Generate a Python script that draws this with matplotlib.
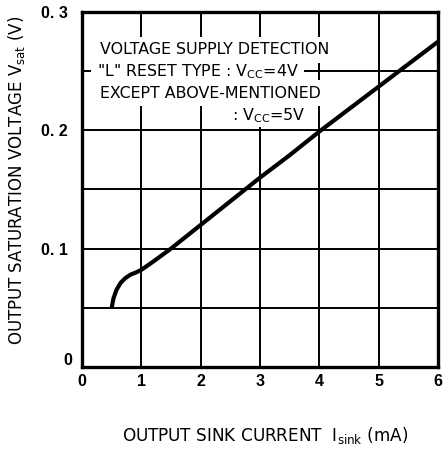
import numpy as np
import matplotlib
matplotlib.use("Agg")
import matplotlib.pyplot as plt

# curve
isink_ma = [0.5, 0.53, 0.58, 0.65, 0.73, 0.82, 0.92, 1.0, 1.2, 1.5, 2.0, 2.5, 3.0, 3.5, 4.0, 4.5, 5.0, 5.5, 6.0]
vsat_v = [0.050, 0.058, 0.065, 0.071, 0.075, 0.078, 0.080, 0.082, 0.089, 0.100, 0.120, 0.140, 0.160, 0.179, 0.199, 0.218, 0.237, 0.256, 0.275]

x_ticks = [0, 1, 2, 3, 4, 5, 6]
y_grid = [0.05, 0.1, 0.15, 0.2, 0.25]
y_ticks = [0.1, 0.2, 0.3]
y_ticklabels = ["0. 1", "0. 2", "0. 3"]

plt.rcParams['font.family'] = ['DejaVu Sans']

fig = plt.figure(figsize=(4.46, 4.5), dpi=100)
ax = fig.add_axes([0.184, 0.185, 0.798, 0.788])
ax.set_xlim(0, 6)
ax.set_ylim(0, 0.3)

for x in x_ticks[1:-1]:
    ax.axvline(x, color="black", lw=1.4, zorder=1)
for y in y_grid:
    ax.axhline(y, color="black", lw=1.4, zorder=1)

ax.plot(isink_ma, vsat_v, color="black", lw=3.0, solid_capstyle="butt", zorder=4)

for s in ax.spines.values():
    s.set_linewidth(2.4)

ax.set_xticks(x_ticks)
ax.set_xticklabels([str(v) for v in x_ticks], fontsize=11.5, fontweight="bold",
                   family="Liberation Sans")
ax.set_yticks(y_ticks)
ax.set_yticklabels(y_ticklabels, fontsize=11.5, fontweight="bold", family="Liberation Sans")
ax.tick_params(axis="x", length=0, pad=5)
ax.tick_params(axis="y", length=0, pad=10)
ax.text(-0.17, 0.005, "0", ha="right", va="center", fontsize=11.5, fontweight="bold",
        family="Liberation Sans")

box = dict(facecolor="white", edgecolor="none", pad=4)
ax.text(0.3, 0.268, "VOLTAGE SUPPLY DETECTION", fontsize=11.4, va="center", bbox=box, zorder=3)
ax.text(0.25, 0.2495, "\"L\" RESET TYPE : V$_{\\mathrm{CC}}$=4V", fontsize=11.4, va="center",
        bbox=box, zorder=3)
ax.text(0.3, 0.2315, "EXCEPT ABOVE-MENTIONED", fontsize=11.4, va="center", bbox=box, zorder=3)
ax.text(2.53, 0.2125, ": V$_{\\mathrm{CC}}$=5V", fontsize=11.4, va="center",
        bbox=dict(facecolor="white", edgecolor="none", pad=1.5), zorder=3)

fig.text(0.038, 0.6, "OUTPUT SATURATION VOLTAGE V$_{\\mathrm{sat}}$ (V)", rotation=90,
         ha="center", va="center", fontsize=12)
fig.text(0.595, 0.033, "OUTPUT SINK CURRENT  I$_{\\mathrm{sink}}$ (mA)", ha="center",
         va="center", fontsize=12.2)

fig.savefig("out.png", dpi=100)
